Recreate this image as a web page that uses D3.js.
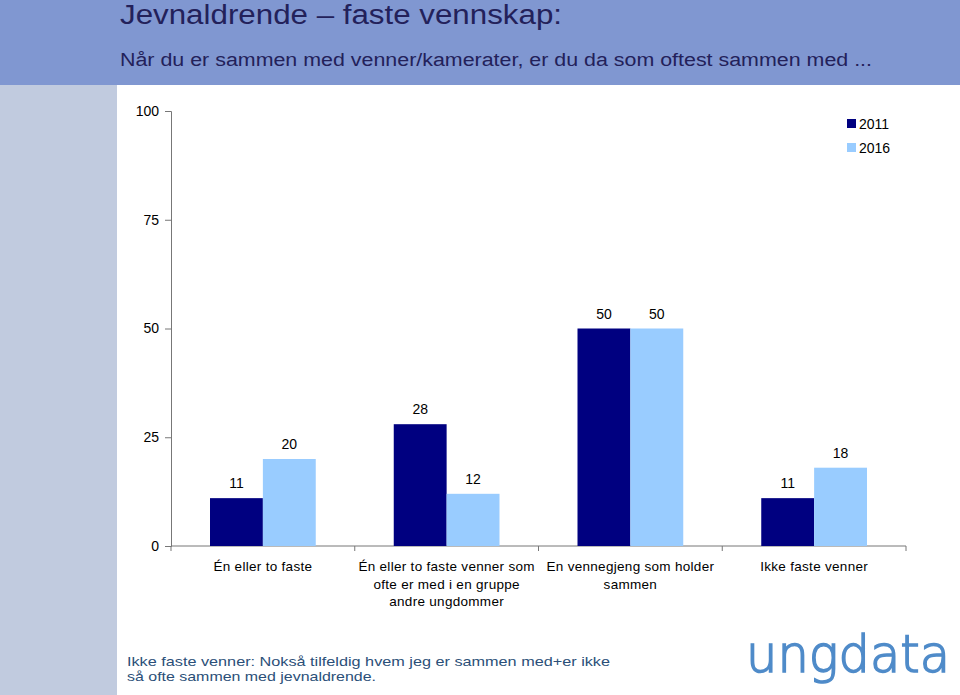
<!DOCTYPE html>
<html><head><meta charset="utf-8">
<script src="https://cdn.jsdelivr.net/npm/d3@7"></script>
<style>body{margin:0;background:#fff}svg{display:block}</style>
</head><body><svg id="c" width="960" height="695"></svg>
<script>
const categories = [
  ["Én eller to faste"],
  ["Én eller to faste venner som", "ofte er med i en gruppe", "andre ungdommer"],
  ["En vennegjeng som holder", "sammen"],
  ["Ikke faste venner"]
];
const seriesNames = ["2011", "2016"];
const values2011 = [11, 28, 50, 11];
const values2016 = [20, 12, 50, 18];
const yTicks = [0, 25, 50, 75, 100];
const colors = ["#000080", "#99ccff"];

const svg = d3.select("#c");
const font = "Liberation Sans, Arial, sans-serif";

// backgrounds
svg.append("rect").attr("x",0).attr("y",0).attr("width",960).attr("height",695).attr("fill","#fff");
svg.append("rect").attr("x",0).attr("y",85).attr("width",117).attr("height",610).attr("fill","#c1cbdf");
svg.append("rect").attr("x",0).attr("y",0).attr("width",960).attr("height",85).attr("fill","#8097d1");

svg.append("text").attr("x",120).attr("y",24).attr("font-family",font).attr("font-size",27)
  .attr("fill","#23215a").attr("textLength",442).attr("lengthAdjust","spacingAndGlyphs")
  .text("Jevnaldrende – faste vennskap:");
svg.append("text").attr("x",120).attr("y",66).attr("font-family",font).attr("font-size",18)
  .attr("fill","#23215a").attr("textLength",752).attr("lengthAdjust","spacingAndGlyphs")
  .text("Når du er sammen med venner/kamerater, er du da som oftest sammen med ...");

const x0 = d3.scaleBand().domain(d3.range(categories.length)).range([171, 906]).paddingInner(0).paddingOuter(0);
const x1 = d3.scaleBand().domain(seriesNames).range([39, x0.bandwidth()-39]);
const y = d3.scaleLinear().domain([0,100]).range([546, 111]);

// y axis
const yAxis = d3.axisLeft(y).tickValues(yTicks).tickSize(6).tickPadding(6);
const gy = svg.append("g").attr("transform","translate(171,0)").call(yAxis);
gy.select(".domain").attr("stroke","#777");
gy.selectAll(".tick line").attr("stroke","#777");
gy.selectAll("text").attr("font-family",font).attr("font-size",14).attr("fill","#000");

// x axis
const gx = svg.append("g").attr("transform","translate(0,546)");
gx.append("line").attr("x1",171).attr("x2",906).attr("y1",0).attr("y2",0).attr("stroke","#777");
const bounds = d3.range(categories.length+1).map(i => i < categories.length ? x0(i) : x0(i-1)+x0.bandwidth());
gx.selectAll("line.t").data(bounds).join("line").attr("class","t")
  .attr("x1",d=>d).attr("x2",d=>d).attr("y1",0).attr("y2",5).attr("stroke","#777");

const data = categories.map((c,i)=>({i, vals:[values2011[i], values2016[i]]}));
const groups = svg.append("g").selectAll("g").data(data).join("g")
  .attr("transform", d=>`translate(${x0(d.i)},0)`);
groups.selectAll("rect").data(d=>d.vals.map((v,k)=>({v,k}))).join("rect")
  .attr("x", d=>x1(seriesNames[d.k])).attr("width", x1.bandwidth())
  .attr("y", d=>y(d.v)).attr("height", d=>y(0)-y(d.v)).attr("fill", d=>colors[d.k]);
groups.selectAll("text").data(d=>d.vals.map((v,k)=>({v,k}))).join("text")
  .attr("x", d=>x1(seriesNames[d.k])+x1.bandwidth()/2).attr("y", d=>y(d.v)-10)
  .attr("text-anchor","middle").attr("font-family",font).attr("font-size",14).text(d=>d.v);

// category labels
categories.forEach((lines,i)=>{
  const t = svg.append("text").attr("text-anchor","middle").attr("font-family",font).attr("font-size",13.5)
    .attr("letter-spacing","0.3px");
  lines.forEach((l,j)=>{
    t.append("tspan").attr("x", x0(i)+x0.bandwidth()/2).attr("y", 571+j*17.5).text(l);
  });
});

// legend
seriesNames.forEach((s,k)=>{
  svg.append("rect").attr("x",847).attr("y",119+k*24).attr("width",9).attr("height",9).attr("fill",colors[k]);
  svg.append("text").attr("x",859).attr("y",129+k*24).attr("font-family",font).attr("font-size",14).text(s);
});

// footnote
svg.append("text").attr("font-family",font).attr("font-size",13.5).attr("fill","#2b4f78")
  .attr("x",127).attr("y",666).attr("textLength",483).attr("lengthAdjust","spacingAndGlyphs")
  .text("Ikke faste venner: Nokså tilfeldig hvem jeg er sammen med+er ikke");
svg.append("text").attr("font-family",font).attr("font-size",13.5).attr("fill","#2b4f78")
  .attr("x",127).attr("y",681).attr("textLength",249).attr("lengthAdjust","spacingAndGlyphs")
  .text("så ofte sammen med jevnaldrende.");

// logo
svg.append("text").attr("x",746).attr("y",672).attr("font-family","DejaVu Sans").attr("font-weight",200)
  .attr("font-size",52).attr("fill","#4f8bc9").attr("stroke","#4f8bc9").attr("stroke-width",1.6)
  .attr("textLength",204).attr("lengthAdjust","spacingAndGlyphs")
  .text("ungdata");
</script></body></html>
